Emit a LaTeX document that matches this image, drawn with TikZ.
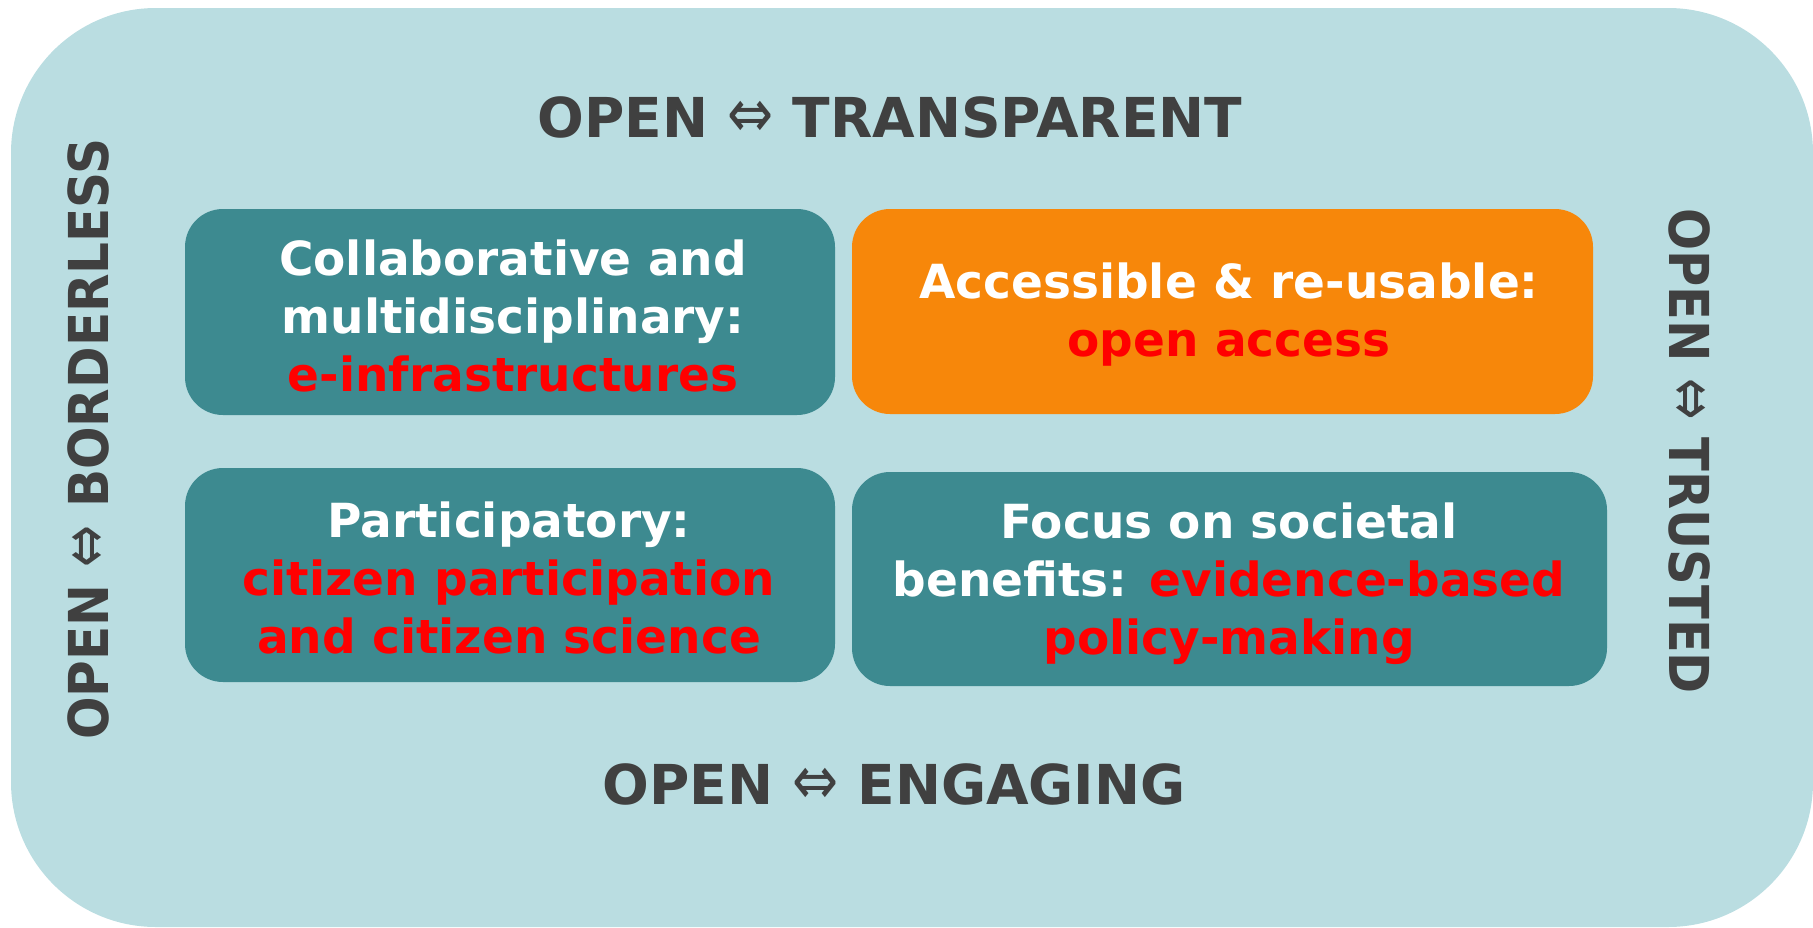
\documentclass[tikz,border=0pt]{standalone}
\usepackage{fontspec}
\setmainfont{DejaVu Sans}
\definecolor{outerbg}{HTML}{BADDE1}
\definecolor{tealbg}{HTML}{3D8A90}
\definecolor{orangebg}{HTML}{F7870A}
\definecolor{darktext}{HTML}{404040}
\definecolor{hired}{HTML}{FF0000}
\newcommand{\dblarrow}{{\mdseries\scalebox{1}[1.25]{⇔}}}
\begin{document}
\begin{tikzpicture}[x=1pt,y=-1pt,
  card/.style={rounded corners=38pt, inner sep=0pt, draw=none},
  tealcard/.style={card, fill=tealbg},
  orangecard/.style={card, fill=orangebg},
  boxtext/.style={align=center, text=white, inner sep=0pt,
    font=\fontsize{47}{58}\selectfont\bfseries},
  title/.style={text=darktext, inner sep=0pt,
    font=\fontsize{55}{66}\selectfont\bfseries}]
\useasboundingbox (0,0) rectangle (1813,927);
\fill[outerbg, rounded corners=145pt] (11,8) rectangle (1813,927);

\node[tealcard, minimum width=650pt, minimum height=206pt] (b1) at (510,312) {};
\node[orangecard, minimum width=741pt, minimum height=205pt] (b2) at (1222.5,311.5) {};
\node[tealcard, minimum width=650pt, minimum height=214pt] (b3) at (510,575) {};
\node[tealcard, minimum width=755pt, minimum height=214pt] (b4) at (1229.5,579) {};

\node[boxtext] (t1) at (513,316) {Collaborative and\\multidisciplinary:\\\textcolor{hired}{e-infrastructures}};
\node[boxtext] (t2) at (1229,315) {Accessible \& re-usable:\\\textcolor{hired}{open access}};
\node[boxtext] (t3) at (509,578) {Participatory:\\\textcolor{hired}{citizen participation}\\\textcolor{hired}{and citizen science}};
\node[boxtext] (t4) at (1229,584) {Focus on societal\\benefits: \textcolor{hired}{evidence-based}\\\textcolor{hired}{policy-making}};

\node[title] (top) at (890,117) {OPEN \dblarrow{} TRANSPARENT};
\node[title] (bottom) at (894,784) {OPEN \dblarrow{} ENGAGING};
\node[title, rotate=90] (left) at (88,439) {\scalebox{0.91}[1]{OPEN \dblarrow{} BORDERLESS}};
\node[title, rotate=-90] (right) at (1690,451) {\scalebox{0.9}[1]{OPEN \dblarrow{} TRUSTED}};
\end{tikzpicture}
\end{document}
